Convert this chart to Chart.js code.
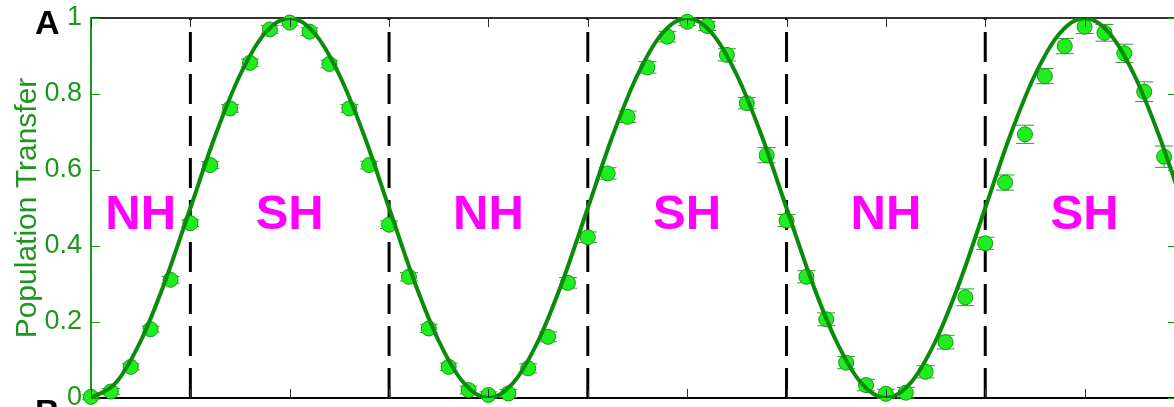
<!DOCTYPE html>
<html>
<head>
<meta charset="utf-8">
<script src="https://cdn.jsdelivr.net/npm/chart.js@4/dist/chart.umd.min.js"></script>
<style>
  html, body { margin: 0; padding: 0; background: #fff; overflow: hidden; }
  #wrap { position: relative; width: 1190px; height: 420px; }
</style>
</head>
<body>
<div id="wrap"><canvas id="transferChart"></canvas></div>
<script>
// measured points (population transfer vs time)
const pointX = [0,0.2,0.4,0.6,0.8,1.0,1.2,1.4,1.6,1.8,2.0,2.2,2.4,2.6,2.8,
  3.0,3.2,3.4,3.6,3.8,4.0,4.2,4.4,4.6,4.8,5.0,5.2,5.4,5.6,5.8,6.0,6.2,6.4,6.6,6.8,
  7.0,7.2,7.4,7.6,7.8,8.0,8.2,8.4,8.6,8.8,
  9.0,9.2,9.4,9.6,9.8,10.0,10.2,10.4,10.6,10.8,11.0];
const pointY = [0.003,0.017,0.082,0.181,0.311,0.46,0.613,0.762,0.882,0.970,0.988,0.964,0.879,0.762,0.613,
  0.456,0.319,0.183,0.082,0.021,0.008,0.012,0.078,0.161,0.303,0.423,0.591,0.740,0.870,0.951,0.990,0.979,0.903,0.776,0.639,
  0.467,0.319,0.207,0.093,0.034,0.011,0.014,0.069,0.147,0.265,
  0.407,0.567,0.694,0.847,0.926,0.977,0.961,0.907,0.806,0.635,0.495];
const pointErr = [0.006,0.008,0.008,0.008,0.009,0.009,0.009,0.010,0.010,0.010,0.008,0.010,0.010,0.010,0.010,
  0.010,0.011,0.011,0.010,0.010,0.008,0.010,0.012,0.013,0.014,0.014,0.015,0.015,0.015,0.014,0.010,0.012,0.016,0.015,0.020,
  0.016,0.016,0.017,0.016,0.015,0.012,0.014,0.016,0.018,0.022,
  0.016,0.020,0.024,0.020,0.020,0.018,0.022,0.024,0.026,0.028,0.030];

// fitted curve
const curveX = [0,0.25,0.5,0.75,1,1.25,1.5,1.75,2,2.25,2.5,2.75,3,3.25,3.5,3.75,
  4,4.25,4.5,4.75,5,5.25,5.5,5.75,6,6.25,6.5,6.75,7,7.25,7.5,7.75,
  8,8.25,8.5,8.75,9,9.25,9.5,9.75,10,10.25,10.5,10.75,11];
const curveY = [0,0.04,0.15,0.31,0.5,0.69,0.85,0.96,1,0.96,0.85,0.69,0.5,0.31,0.15,0.04,
  0,0.04,0.15,0.31,0.5,0.69,0.85,0.96,1,0.96,0.85,0.69,0.5,0.31,0.15,0.04,
  0,0.04,0.15,0.31,0.5,0.69,0.85,0.96,1,0.96,0.85,0.69,0.5];

const dashX = [1,3,5,7,9];
const hemiLabels = ['NH','SH','NH','SH','NH','SH'];
const hemiX = [0.5,2,4,6,8,10];
const hemiY = 0.446;
const xTickValues = [0,1,2,3,4,5,6,7,8,9,10];
const yTickValues = [0,0.2,0.4,0.6,0.8,1];
const yTickLabels = ['0','0.2','0.4','0.6','0.8','1'];
const panelLabels = ['A','B'];

const GREEN_TXT = '#1e961e';
const FONT = "'Liberation Sans', Arial, sans-serif";

const overlay = {
  id: 'overlay',
  beforeDatasetsDraw(chart) {
    const {ctx, chartArea: a, scales: {x, y}} = chart;
    ctx.save();
    // dashed separators
    ctx.strokeStyle = '#000';
    ctx.lineWidth = 3;
    ctx.setLineDash([30, 12]);
    dashX.forEach(v => {
      const px = x.getPixelForValue(v);
      ctx.beginPath();
      ctx.moveTo(px, a.bottom);
      ctx.lineTo(px, a.top);
      ctx.stroke();
    });
    ctx.setLineDash([]);
    // NH / SH labels
    ctx.fillStyle = '#ff00ff';
    ctx.font = 'bold 49px ' + FONT;
    ctx.textAlign = 'center';
    ctx.textBaseline = 'alphabetic';
    hemiLabels.forEach((t, i) => {
      ctx.fillText(t, x.getPixelForValue(hemiX[i]), y.getPixelForValue(hemiY));
    });
    // error bars
    ctx.strokeStyle = '#2f9a2f';
    ctx.lineWidth = 1;
    pointX.forEach((v, i) => {
      const px = x.getPixelForValue(v);
      const y1 = y.getPixelForValue(pointY[i] - pointErr[i]);
      const y2 = y.getPixelForValue(pointY[i] + pointErr[i]);
      ctx.beginPath();
      ctx.moveTo(px, y1); ctx.lineTo(px, y2);
      ctx.moveTo(px - 9, y1); ctx.lineTo(px + 9, y1);
      ctx.moveTo(px - 9, y2); ctx.lineTo(px + 9, y2);
      ctx.stroke();
    });
    ctx.restore();
  },
  afterDraw(chart) {
    const {ctx, chartArea: a, scales: {x, y}} = chart;
    ctx.save();
    ctx.lineWidth = 1;
    ctx.strokeStyle = '#333';
    xTickValues.forEach(v => {
      const px = Math.round(x.getPixelForValue(v)) + 0.5;
      ctx.beginPath();
      ctx.moveTo(px, a.bottom); ctx.lineTo(px, a.bottom - 9);
      ctx.moveTo(px, a.top); ctx.lineTo(px, a.top + 9);
      ctx.stroke();
    });
    ctx.strokeStyle = GREEN_TXT;
    yTickValues.forEach(v => {
      const py = Math.round(y.getPixelForValue(v)) + 0.5;
      ctx.beginPath();
      ctx.moveTo(a.left, py); ctx.lineTo(a.left + 9, py);
      ctx.moveTo(a.right, py); ctx.lineTo(a.right - 9, py);
      ctx.stroke();
    });
    // panel letters
    ctx.fillStyle = '#000';
    ctx.font = 'bold 34px ' + FONT;
    ctx.textAlign = 'left';
    ctx.textBaseline = 'alphabetic';
    ctx.fillText(panelLabels[0], 35, 34);
    ctx.fillText(panelLabels[1], 35, 423);
    ctx.restore();
  }
};

new Chart(document.getElementById('transferChart'), {
  type: 'scatter',
  data: {
    datasets: [{
      type: 'line',
      label: 'fit',
      data: curveX.map((v, i) => ({x: v, y: curveY[i]})),
      borderColor: '#0a8c0a',
      borderWidth: 4,
      pointRadius: 0,
      cubicInterpolationMode: 'monotone',
      fill: false
    }, {
      label: 'data',
      data: pointX.map((v, i) => ({x: v, y: pointY[i]})),
      pointRadius: 7.5,
      backgroundColor: '#1eee1e',
      borderColor: '#1a941a',
      borderWidth: 1,
      clip: false
    }]
  },
  options: {
    responsive: true,
    maintainAspectRatio: false,
    animation: false,
    layout: { padding: 0 },
    plugins: { legend: { display: false }, tooltip: { enabled: false } },
    scales: {
      x: {
        type: 'linear', position: 'bottom', min: 0, max: 10.93,
        grid: { display: false, drawTicks: false },
        border: { display: true, color: '#000', width: 2 },
        ticks: { display: false },
        afterFit: s => { s.height = 22; }
      },
      x2: {
        type: 'linear', position: 'top', min: 0, max: 10.93,
        grid: { display: false, drawTicks: false },
        border: { display: true, color: '#333', width: 2 },
        ticks: { display: false },
        afterFit: s => { s.height = 18; }
      },
      y: {
        position: 'left', min: 0, max: 1,
        grid: { display: false, drawTicks: false },
        border: { display: true, color: GREEN_TXT, width: 2 },
        ticks: {
          stepSize: 0.2, padding: 9, color: GREEN_TXT,
          font: { family: FONT, size: 27, lineHeight: 0.6 },
          callback: (v, i) => yTickLabels[i]
        },
        title: {
          display: true, text: 'Population Transfer', color: GREEN_TXT,
          font: { family: FONT, size: 30 }, padding: { top: 10 }
        },
        afterFit: s => { s.width = 91; }
      },
      y2: {
        position: 'right', min: 0, max: 1,
        grid: { display: false, drawTicks: false },
        border: { display: true, color: GREEN_TXT, width: 2 },
        ticks: { display: false },
        afterFit: s => { s.width = 13; }
      }
    }
  },
  plugins: [overlay]
});
</script>
</body>
</html>
